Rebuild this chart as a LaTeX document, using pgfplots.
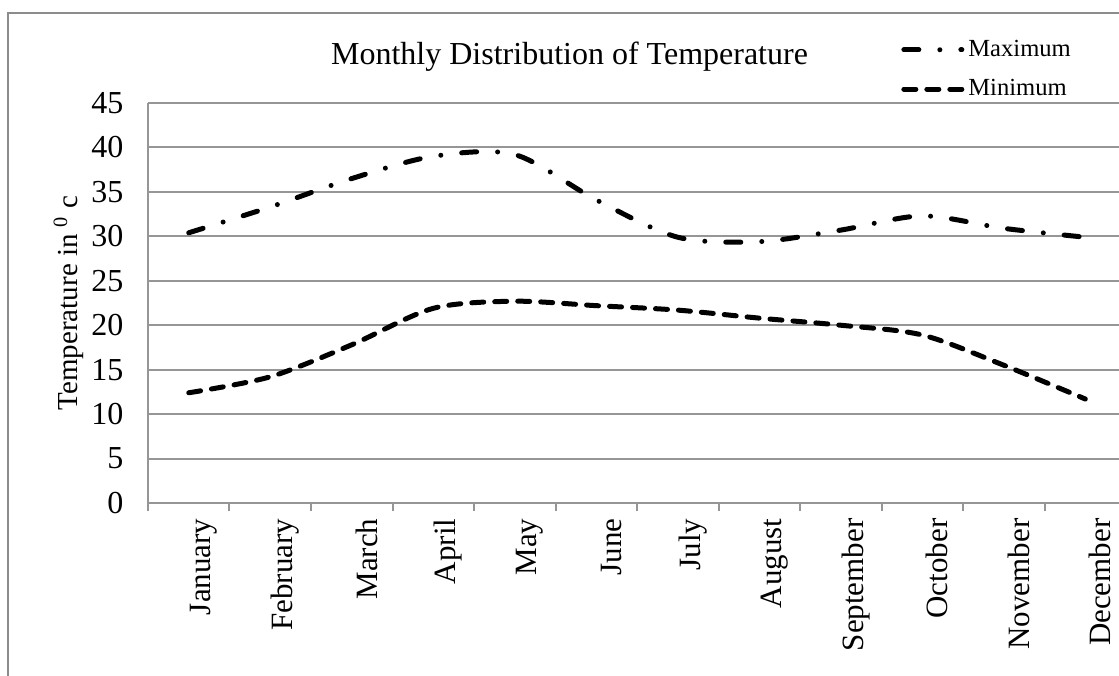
\documentclass[border=0pt]{standalone}
\usepackage{pgfplots}
\pgfplotsset{compat=1.18}
\usepackage{fontspec}
\setmainfont{Liberation Serif}
\definecolor{gridgray}{RGB}{150,150,150}
\definecolor{framegray}{RGB}{140,140,140}
\begin{document}
\begin{tikzpicture}
\useasboundingbox (0,0) rectangle (559.5pt,337.5pt);
\clip (0,0) rectangle (559.5pt,337.5pt);
\draw[framegray, line width=1pt] (4pt,-20pt) -- (4pt,331pt) -- (600pt,331pt);
\begin{axis}[
  at={(74pt,86pt)}, anchor=south west,
  scale only axis, width=489pt, height=200pt,
  xmin=0.5, xmax=12.5, ymin=0, ymax=45,
  axis x line=bottom, axis y line=left,
  axis line style={gridgray, line width=1pt, -},
  xtick={1,...,12},
  xticklabels={January,February,March,April,May,June,July,August,September,October,November,December},
  minor xtick={0.5,1.5,...,12.5},
  major x tick style={draw=none},
  minor x tick style={gridgray, line width=1pt},
  minor tick length=4pt,
  tick align=outside,
  ytick={0,5,...,45},
  major y tick style={draw=none},
  ymajorgrids,
  grid style={gridgray, line width=1pt},
  /pgf/number format/assume math mode=true,
  xticklabel style={rotate=90, anchor=east, font=\fontsize{15.5}{18}\selectfont, yshift=-7.5pt},
  yticklabel style={font=\fontsize{16}{19}\selectfont, xshift=-4.5pt},
  ylabel={Temperature in \textsuperscript{0} c},
  ylabel style={font=\fontsize{14.5}{17}\selectfont, yshift=-3pt},
  title={Monthly Distribution of Temperature},
  title style={at={(0.431,1)}, anchor=center, yshift=17pt, font=\fontsize{16}{19}\selectfont},
  legend style={at={(0.859,1.084)}, anchor=center, draw=none, fill=none,
    font=\fontsize{12.3}{14}\selectfont, row sep=6pt},
  legend cell align=left,
  legend image code/.code={\draw[#1] (0pt,0pt) -- (29pt,0pt);},
]
\addplot[black, line width=2.5pt, line cap=round, smooth, tension=0.5,
  dash pattern=on 7.5pt off 10.5pt on 0pt off 10.5pt]
  coordinates {(1,30.4) (2,33.3) (3,36.5) (4,39.0) (5,39.2) (6,34.1) (7,29.9) (8,29.4) (9,30.7) (10,32.3) (11,30.9) (12,29.9)};
\addlegendentry{Maximum}
\addplot[black, line width=2.5pt, line cap=round, smooth, tension=0.5,
  dash pattern=on 6pt off 5.5pt]
  coordinates {(1,12.4) (2,14.2) (3,17.8) (4,21.9) (5,22.7) (6,22.2) (7,21.7) (8,20.8) (9,20.0) (10,18.9) (11,15.5) (12,11.7)};
\addlegendentry{Minimum}
\end{axis}
\end{tikzpicture}
\end{document}
